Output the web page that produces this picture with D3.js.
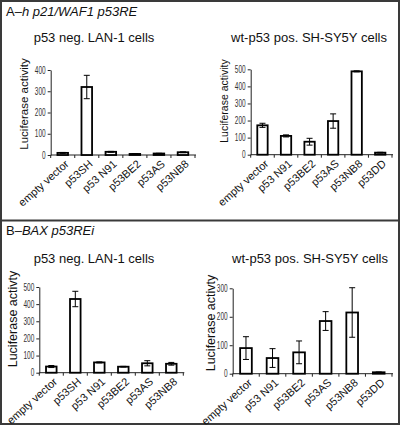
<!DOCTYPE html>
<html><head><meta charset="utf-8">
<script src="https://cdn.jsdelivr.net/npm/d3@7"></script>
<style>
body{margin:0;background:#fff;}
svg{display:block;}
.tt{font-family:"Liberation Sans",Arial,sans-serif;fill:#111;}
.tick text{font-family:"Liberation Sans",Arial,sans-serif;}
</style>
</head><body>
<script>
// ---- data ----
const catsLAN = ["empty vector","p53SH","p53 N91","p53BE2","p53AS","p53NB8"];
const catsSHSY = ["empty vector","p53 N91","p53BE2","p53AS","p53NB8","p53DD"];

const valsA1 = [10, 320, 15, 5, 7, 13];
const errA1  = [2, 55, 2, 1, 1, 2];
const valsA2 = [172, 110, 76, 197, 488, 12];
const errA2  = [12, 6, 20, 42, 3, 2];
const valsB1 = [36, 430, 60, 35, 55, 52];
const errB1  = [6, 45, 3, 2, 15, 8];
const valsB2 = [90, 55, 75, 185, 215, 5];
const errB2  = [40, 33, 40, 33, 87, 1];

const ticksA1 = [0,100,200,300,400];
const ticksA2 = [0,100,200,300,400,500];
const ticksB1 = [0,100,200,300,400,500];
const ticksB2 = [0,100,200,300];

const W = 401, H = 426;
const svg = d3.select("body").append("svg").attr("width", W).attr("height", H);

// panel frames
svg.append("rect").attr("x",1).attr("y",1).attr("width",398).attr("height",423)
  .attr("fill","none").attr("stroke","#3a3a3a").attr("stroke-width",2);
svg.append("line").attr("x1",1).attr("x2",399).attr("y1",220.5).attr("y2",220.5)
  .attr("stroke","#3a3a3a").attr("stroke-width",2);

// panel titles
function panelTitle(x,y,prefix,ital){
  const t = svg.append("text").attr("class","tt").attr("x",x).attr("y",y).attr("font-size",13);
  t.append("tspan").text(prefix);
  t.append("tspan").attr("font-style","italic").text(ital);
}
panelTitle(6,16,"A\u2013","h p21/WAF1 p53RE");
panelTitle(6,235,"B\u2013","BAX p53REi");

function chart(o){
  const x = d3.scaleBand().domain(o.cats).range(o.xr).padding(0);
  const y = d3.scaleLinear().domain(o.dom).range(o.yr);
  const g = svg.append("g");
  // title
  g.append("text").attr("class","tt").attr("x",o.title[1]).attr("y",o.title[2])
    .attr("text-anchor","middle").attr("font-size",13).text(o.title[0]);
  // y axis
  const ya = g.append("g").attr("transform",`translate(${o.xr[0]},0)`)
    .call(d3.axisLeft(y).tickValues(o.ticks).tickSize(3).tickPadding(2).tickSizeOuter(0));
  ya.select(".domain").attr("stroke","#222");
  ya.selectAll(".tick line").attr("stroke","#222");
  const sx = 0.65;
  ya.selectAll(".tick text").attr("font-size",o.yfs).attr("fill","#333")
    .attr("x", -5/sx).attr("transform",`scale(${sx},1)`);
  // y title
  g.append("text").attr("class","tt")
    .attr("transform",`translate(${o.ytitle[1]},${o.ytitle[2]}) rotate(-90)`)
    .attr("text-anchor","middle").attr("dominant-baseline","central")
    .attr("font-size",o.ytitle[3]).text(o.ytitle[0]);
  // x axis line + ticks at band boundaries
  const y0 = y(0);
  g.append("line").attr("x1",o.xr[0]).attr("x2",o.xr[1]+1).attr("y1",y0).attr("y2",y0)
    .attr("stroke","#222");
  const bounds = o.cats.map(c=>x(c)).concat([o.xr[1]]);
  g.selectAll(".xt").data(bounds).enter().append("line")
    .attr("x1",d=>d).attr("x2",d=>d).attr("y1",y0).attr("y2",y0+3).attr("stroke","#222");
  // x labels
  g.selectAll(".xl").data(o.cats).enter().append("text").attr("class","tt")
    .attr("transform",c=>`translate(${x(c)+x.bandwidth()/2+4},${y0+7}) rotate(-42)`)
    .attr("text-anchor","end").attr("dominant-baseline","central")
    .attr("font-size",11).text(c=>c);
  // bars
  const bw = x.bandwidth()*0.44;
  g.selectAll(".bar").data(o.cats).enter().append("rect")
    .attr("x",(c)=>x(c)+x.bandwidth()/2-bw/2)
    .attr("y",(c,i)=>y(o.vals[i]))
    .attr("width",bw)
    .attr("height",(c,i)=>y0-y(o.vals[i]))
    .attr("fill","#fff").attr("stroke","#000").attr("stroke-width",1.8);
  // error bars
  o.cats.forEach((c,i)=>{
    const cx = x(c)+x.bandwidth()/2;
    const hi = y(o.vals[i]+o.err[i]), lo = y(o.vals[i]-o.err[i]);
    g.append("line").attr("x1",cx).attr("x2",cx).attr("y1",hi).attr("y2",lo).attr("stroke","#000").attr("stroke-width",1);
    [hi,lo].forEach(v=>g.append("line").attr("x1",cx-3).attr("x2",cx+3).attr("y1",v).attr("y2",v).attr("stroke","#000").attr("stroke-width",1));
  });
}

chart({cats:catsLAN, vals:valsA1, err:errA1, ticks:ticksA1, dom:[0,400],
  xr:[50.7,195], yr:[155,70], title:["p53 neg. LAN-1 cells",94,42],
  ytitle:["Luciferase activity",24,104,11.5], yfs:10});
chart({cats:catsSHSY, vals:valsA2, err:errA2, ticks:ticksA2, dom:[0,500],
  xr:[250.7,392], yr:[154.7,69.3], title:["wt-p53 pos. SH-SY5Y cells",309,42],
  ytitle:["Luciferase activity",224,101,10.5], yfs:10});
chart({cats:catsLAN, vals:valsB1, err:errB1, ticks:ticksB1, dom:[0,500],
  xr:[39.3,183.3], yr:[372.7,287], title:["p53 neg. LAN-1 cells",94,263],
  ytitle:["Luciferase activty",13,319,12.5], yfs:10});
chart({cats:catsSHSY, vals:valsB2, err:errB2, ticks:ticksB2, dom:[0,300],
  xr:[232.7,392], yr:[373.7,288.3], title:["wt-p53 pos. SH-SY5Y cells",310,263],
  ytitle:["Luciferase activty",210.5,323,12.5], yfs:10});
</script>
</body></html>
